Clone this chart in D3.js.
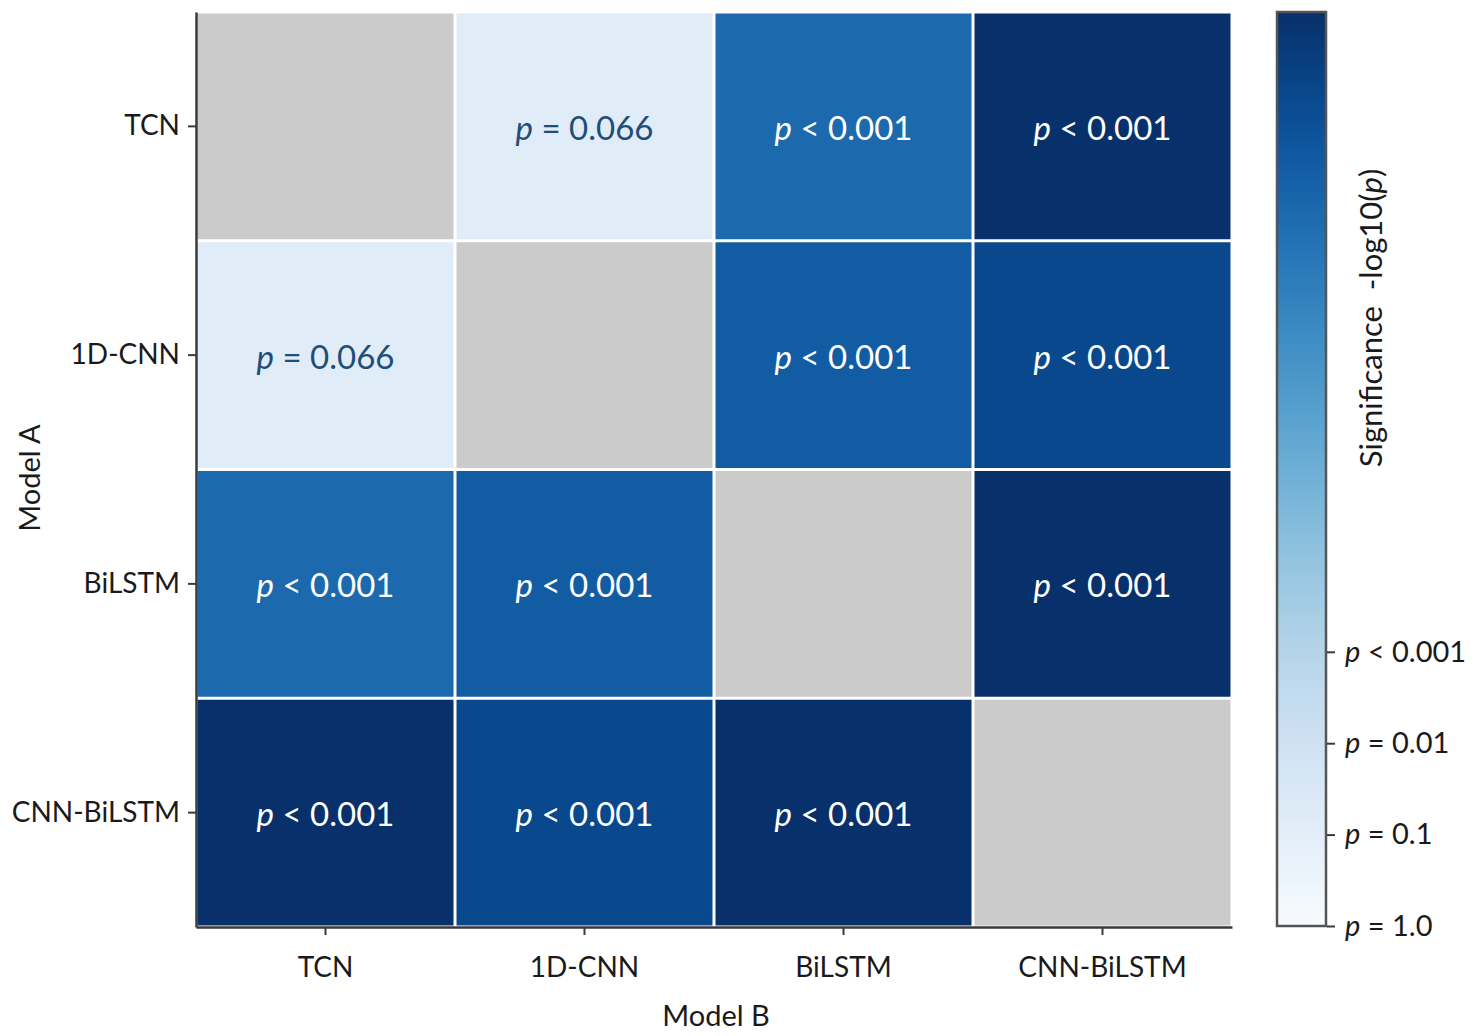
<!DOCTYPE html>
<html>
<head>
<meta charset="utf-8">
<script src="https://cdn.jsdelivr.net/npm/d3@7"></script>
<style>
  body { margin: 0; background: #fff; }
  svg text { font-family: Lato, "Noto Sans", sans-serif; }
</style>
</head>
<body>
<svg width="1478" height="1036"></svg>
<script>
// models compared (rows = Model A, columns = Model B)
const models = ["TCN", "1D-CNN", "BiLSTM", "CNN-BiLSTM"];

// -log10(p) per pair, null on the diagonal
const significance = [
  [null, 1.18, 7.8, 10],
  [1.18, null, 8.3, 9.1],
  [7.8, 8.3, null, 10],
  [10, 9.1, 10, null]
];

// text shown in each cell after the italic p
const pLabels = [
  [null, "= 0.066", "< 0.001", "< 0.001"],
  ["= 0.066", null, "< 0.001", "< 0.001"],
  ["< 0.001", "< 0.001", null, "< 0.001"],
  ["< 0.001", "< 0.001", "< 0.001", null]
];

// colorbar
const cbarDomain = [0, 10];
const cbarTicks = [0, 1, 2, 3];
const cbarTickLabels = ["= 1.0", "= 0.1", "= 0.01", "< 0.001"];

const svg = d3.select("svg");

const x = d3.scaleBand().domain(models).range([196, 1232]);
const y = d3.scaleBand().domain(models).range([12, 927]);
const color = d3.scaleSequential(d3.interpolateBlues).domain(cbarDomain);

// cells
const cells = [];
models.forEach((a, i) => models.forEach((b, j) => {
  cells.push({a, b, v: significance[i][j], label: pLabels[i][j]});
}));

const g = svg.append("g");
g.selectAll("rect")
  .data(cells)
  .enter().append("rect")
  .attr("x", d => x(d.b) + 1.5)
  .attr("y", d => y(d.a) + 1.5)
  .attr("width", x.bandwidth() - 3)
  .attr("height", y.bandwidth() - 3)
  .attr("fill", d => d.v == null ? "#cbcbcb" : color(d.v));

const lab = g.selectAll("text")
  .data(cells.filter(d => d.label))
  .enter().append("text")
  .attr("x", d => x(d.b) + x.bandwidth() / 2)
  .attr("y", d => y(d.a) + y.bandwidth() / 2 + 2)
  .attr("dy", "0.35em")
  .attr("text-anchor", "middle")
  .style("font-size", "33px")
  .attr("fill", d => d.v < 5 ? "#1f4e79" : "#ffffff");
lab.append("tspan").style("font-style", "italic").text("p");
lab.append("tspan").text(d => " " + d.label);

// axes
const axisColor = "#3a3a3a";
const xAxis = svg.append("g")
  .attr("transform", "translate(0,927)")
  .call(d3.axisBottom(x).tickSize(8).tickSizeOuter(0).tickPadding(22));
const yAxis = svg.append("g")
  .attr("transform", "translate(196,0)")
  .call(d3.axisLeft(y).tickSize(8).tickSizeOuter(0).tickPadding(8));
[xAxis, yAxis].forEach(ax => {
  ax.select(".domain").attr("stroke", axisColor).attr("stroke-width", 2.5);
  ax.selectAll(".tick line").attr("stroke", axisColor).attr("stroke-width", 2);
  ax.selectAll(".tick text").style("font-size", "28px").attr("fill", "#1a1a1a");
});

svg.append("text")
  .attr("x", 716).attr("y", 1026)
  .attr("text-anchor", "middle")
  .style("font-size", "29px").attr("fill", "#1a1a1a")
  .text("Model B");
svg.append("text")
  .attr("transform", "translate(40,478) rotate(-90)")
  .attr("text-anchor", "middle")
  .style("font-size", "29px").attr("fill", "#1a1a1a")
  .text("Model A");

// colorbar
const cb = d3.scaleLinear().domain(cbarDomain).range([926, 12]);
const grad = svg.append("defs").append("linearGradient")
  .attr("id", "cbar").attr("x1", 0).attr("y1", 1).attr("x2", 0).attr("y2", 0);
d3.range(0, 1.0001, 0.05).forEach(t => {
  grad.append("stop").attr("offset", t)
    .attr("stop-color", color(cbarDomain[0] + t * (cbarDomain[1] - cbarDomain[0])));
});
svg.append("rect")
  .attr("x", 1277).attr("y", cb(cbarDomain[1]))
  .attr("width", 49).attr("height", cb(cbarDomain[0]) - cb(cbarDomain[1]))
  .attr("fill", "url(#cbar)")
  .attr("stroke", "#555").attr("stroke-width", 2.5);

const cbAxis = svg.append("g")
  .attr("transform", "translate(1327,0)")
  .call(d3.axisRight(cb).tickValues(cbarTicks).tickSize(8).tickPadding(10));
cbAxis.select(".domain").remove();
cbAxis.selectAll(".tick line").attr("stroke", axisColor).attr("stroke-width", 2);
cbAxis.selectAll(".tick text").each(function(d, i) {
  const t = d3.select(this).text("").style("font-size", "29px").attr("fill", "#1a1a1a");
  t.append("tspan").style("font-style", "italic").text("p");
  t.append("tspan").text(" " + cbarTickLabels[i]);
});

const cbTitle = svg.append("text")
  .attr("transform", "translate(1382,318) rotate(-90)")
  .attr("text-anchor", "middle")
  .style("font-size", "31px").attr("fill", "#1a1a1a");
cbTitle.append("tspan").attr("xml:space", "preserve").text("Significance  -log10(");
cbTitle.append("tspan").style("font-style", "italic").text("p");
cbTitle.append("tspan").text(")");
</script>
</body>
</html>
